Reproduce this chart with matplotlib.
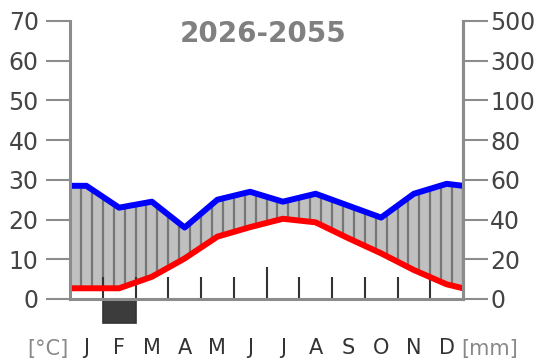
import numpy as np
import matplotlib
matplotlib.use("Agg")
import matplotlib.pyplot as plt
from matplotlib.patches import Rectangle

# climate normals 2026-2055
months = ["J", "F", "M", "A", "M", "J", "J", "A", "S", "O", "N", "D"]
temp_c = [2.7, 2.7, 5.6, 10.2, 15.7, 18.1, 20.2, 19.3, 15.3, 11.5, 7.3, 3.7]
precip_mm = [57, 46, 49, 36, 50, 54, 49, 53, 47, 41, 53, 58]
frost_months = [False, True, False, False, False, False,
                False, False, False, False, False, False]
left_ticks = [0, 10, 20, 30, 40, 50, 60, 70]
right_labels = ["0", "20", "40", "60", "80", "100", "300", "500"]
title = "2026-2055"


def mm_to_scale(p):
    # Walter-Lieth: 2 mm per degree up to 100 mm, compressed above
    p = np.asarray(p, dtype=float)
    return np.where(p <= 100, p / 2.0, 50 + (p - 100) / 20.0)


grey = "#8c8c8c"
W, H = 540, 362
fig = plt.figure(figsize=(W / 100, H / 100), dpi=100)
ax = fig.add_axes([70 / W, 1 - 299 / H, (463 - 70) / W, (299 - 21) / H])
ax.set_xlim(0, 12)
ax.set_ylim(0, 70)

# curves at month centres; both edges run towards January (year wraps)
xc = np.arange(12) + 0.5
t = np.array(temp_c)
p = mm_to_scale(precip_mm)
x_full = np.concatenate([[0], xc, [12]])
t_full = np.concatenate([[t[0]], t, [t[0]]])
p_full = np.concatenate([[p[0]], p, [p[0]]])

# humid period: grey fill with vertical hatching
xs = np.linspace(0, 12, 400)
ts = np.interp(xs, x_full, t_full)
ps = np.interp(xs, x_full, p_full)
ax.fill_between(xs, ts, ps, where=ps >= ts, color="#c0c0c0", lw=0, zorder=1)
xh = np.arange(0, 37) / 3.0
th = np.interp(xh, x_full, t_full)
ph = np.interp(xh, x_full, p_full)
for xi, lo, hi in zip(xh, th, ph):
    if hi > lo:
        ax.vlines(xi, lo, hi, color="#767676", lw=1.6, zorder=2)

# month boundary ticks
for k in range(1, 12):
    top = 8 if k == 6 else 5.5
    ax.vlines(k, 0, top, color="#333333", lw=1.5, zorder=2)

# frost months below the axis
for i, fr in enumerate(frost_months):
    if fr:
        ax.add_patch(Rectangle((i, -6), 1, 6, facecolor="#3c3c3c",
                               edgecolor="#333333", lw=1.2, clip_on=False, zorder=3))

ax.plot(x_full, t_full, color="#ff0000", lw=4.3, zorder=4,
        solid_capstyle="butt", solid_joinstyle="round")
ax.plot(x_full, p_full, color="#0000ff", lw=4.3, zorder=5,
        solid_capstyle="butt", solid_joinstyle="round")

ax.spines["top"].set_visible(False)
for s in ["left", "right", "bottom"]:
    ax.spines[s].set_color(grey)
    ax.spines[s].set_linewidth(2.2)
    ax.spines[s].set_zorder(6)

ax.set_xticks([])
ax.set_yticks(left_ticks)
ax.set_yticklabels([str(v) for v in left_ticks])
ax.tick_params(axis="y", length=17.5, width=1.5, color=grey, pad=5,
               labelsize=17, labelcolor="#444444")

ax2 = ax.twinx()
ax2.set_ylim(0, 70)
ax2.set_yticks(left_ticks)
ax2.set_yticklabels(right_labels)
ax2.tick_params(axis="y", length=18, width=1.5, color=grey, pad=1.5,
                labelsize=17, labelcolor="#444444")
for s in ["top", "left", "bottom"]:
    ax2.spines[s].set_visible(False)
ax2.spines["right"].set_color(grey)
ax2.spines["right"].set_linewidth(2.2)

# month letters and units
for i, m in enumerate(months):
    ax.text(i + 0.5, -12.4, m, ha="center", va="center", fontsize=15,
            color="#333333", clip_on=False)
fig.text(48 / W, 1 - 349 / H, "[°C]", ha="center", va="center",
         fontsize=15, color="#888888")
fig.text(490 / W, 1 - 349 / H, "[mm]", ha="center", va="center",
         fontsize=15, color="#888888")

fig.text(263 / W, 1 - 34 / H, title, ha="center", va="center",
         fontsize=20, fontweight="bold", color="#808080")

fig.savefig("out.png", dpi=100)
